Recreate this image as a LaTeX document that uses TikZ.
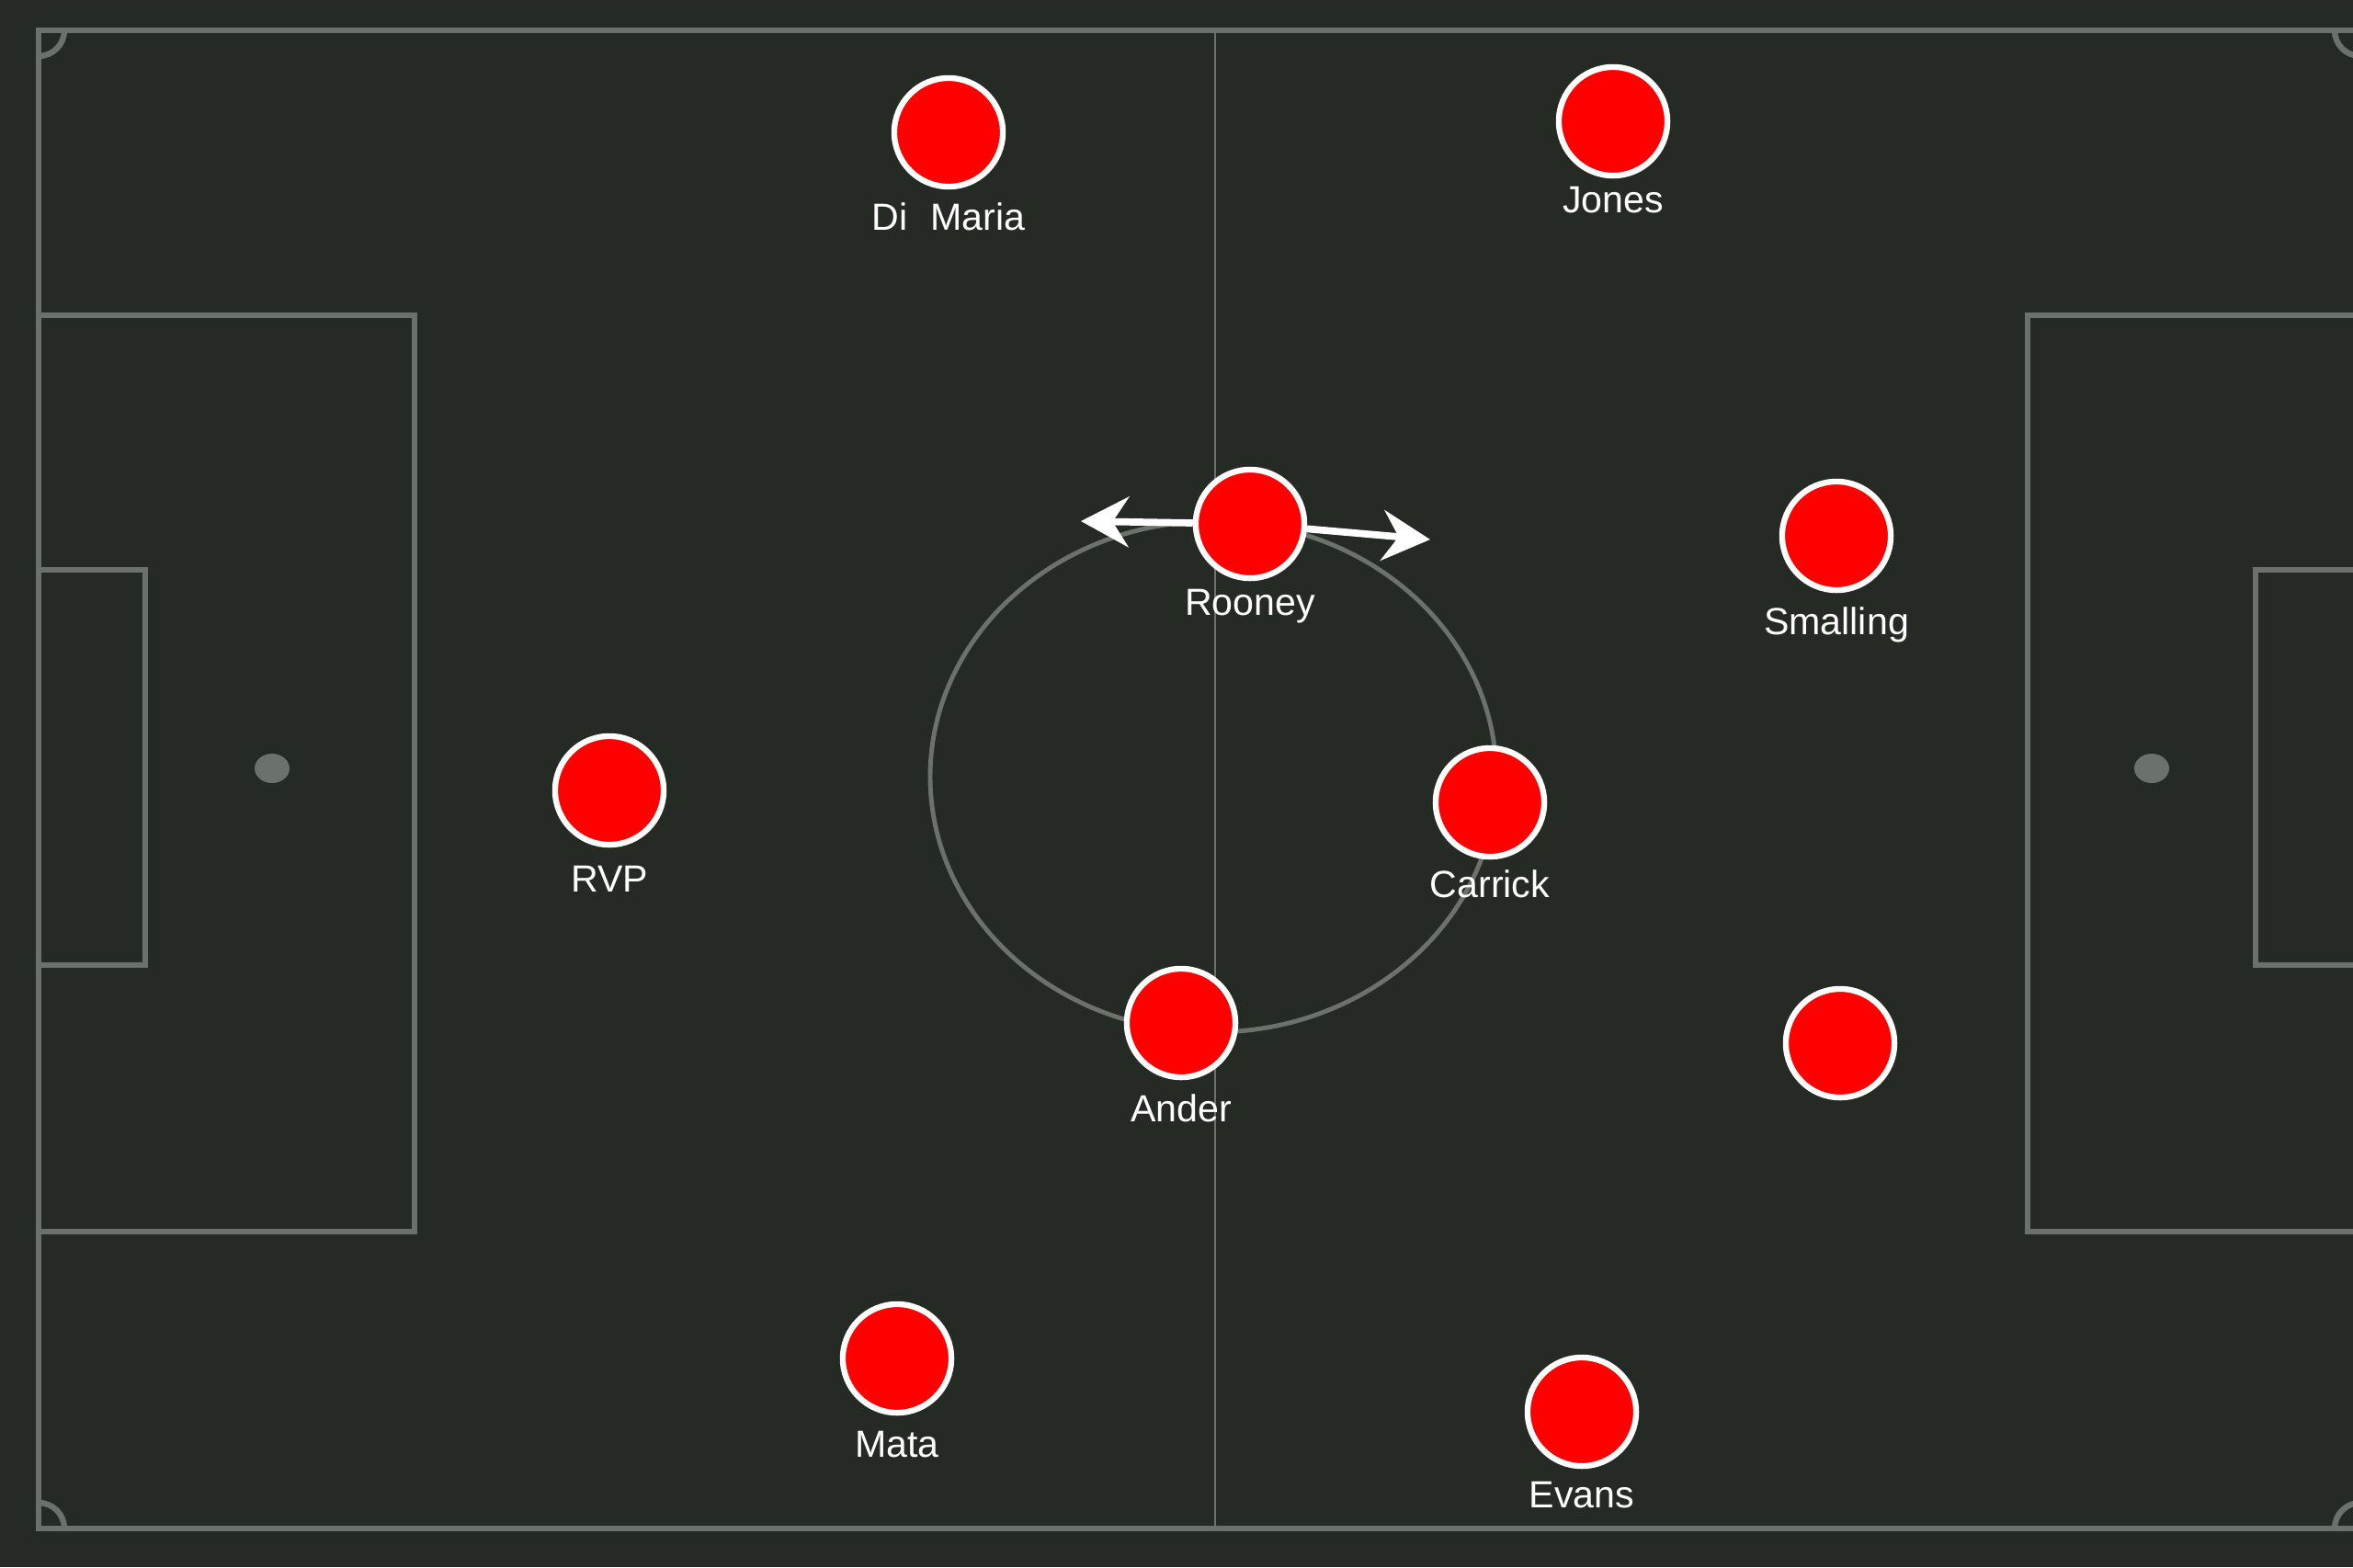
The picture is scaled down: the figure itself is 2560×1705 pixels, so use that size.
\documentclass[tikz,border=0pt]{standalone}
\usepackage{fontspec}
\setmainfont{Liberation Sans}
\usetikzlibrary{positioning,arrows.meta}
\definecolor{turf}{HTML}{252A24}
\definecolor{chalk}{HTML}{6B716B}
\definecolor{kit}{HTML}{FF0000}
\tikzset{
		pitch/.style={draw=chalk, line width=1.8pt},
		halfway/.style={draw=chalk, line width=0.8pt},
		spot/.style={fill=chalk},
		player/.style={circle, fill=kit, draw=white, line width=1.8pt, minimum size=33.6pt, inner sep=0pt},
		tag/.style={text=white, inner sep=0pt, text height=8.4pt, text depth=2.4pt, font=\fontsize{11.7}{14}\selectfont},
		run/.style={draw=white, line width=2.2pt, -{Stealth[length=14.8pt, width=15.6pt, inset=5pt]}}
	}
\begin{document}
\begin{tikzpicture}[x=0.01cm, y=-0.01cm]
				\fill[turf] (0,0) rectangle (2560,1705);
				\useasboundingbox (0,0) rectangle (2560,1705);
				\clip (0,0) rectangle (2560,1705);
				\draw[pitch] (42,33) rectangle (2568,1663);
				\draw[halfway] (1322,33) -- (1322,1663);
				\draw[pitch, line width=1.4pt] (1320,845) ellipse [x radius=308, y radius=278];
				\draw[pitch] (42,343) rectangle (451,1340);
				\draw[pitch] (42,620) rectangle (158,1050);
				\draw[pitch] (2206,343) rectangle (2568,1340);
				\draw[pitch] (2454,620) rectangle (2568,1050);
				\fill[spot] (296,836) ellipse [x radius=19, y radius=16];
				\fill[spot] (2341,836) ellipse [x radius=19, y radius=16];
				\draw[pitch] (70,33) arc[start angle=0, end angle=90, radius=28];
				\draw[pitch] (70,1663) arc[start angle=0, end angle=-90, radius=28];
				\draw[pitch] (2540,33) arc[start angle=180, end angle=90, radius=28];
				\draw[pitch] (2540,1663) arc[start angle=180, end angle=270, radius=28];
				\node[player] (dimaria) at (1032,144) {};
				\node[player] (jones) at (1755,132) {};
				\node[player] (rooney) at (1360,570) {};
				\node[player] (smalling) at (1998,583) {};
				\node[player] (rvp) at (663,860) {};
				\node[player] (carrick) at (1621,873) {};
				\node[player] (ander) at (1285,1113) {};
				\node[player] (wingback) at (2002,1135) {};
				\node[player] (mata) at (976,1478) {};
				\node[player] (evans) at (1721,1536) {};
				\node[tag, below=4pt of dimaria] (dimarianame) {Di\hspace{0.62em}Maria};
				\node[tag, below=2pt of jones] (jonesname) {Jones};
				\node[tag, below=2pt of rooney] (rooneyname) {Rooney};
				\node[tag, below=4.2pt of smalling] (smallingname) {Smalling};
				\node[tag, below=5pt of rvp] (rvpname) {RVP};
				\node[tag, below=3pt of carrick] (carrickname) {Carrick};
				\node[tag, below=4.2pt of ander] (andername) {Ander};
				\node[tag, below=4.2pt of mata] (mataname) {Mata};
				\node[tag, below=3.5pt of evans] (evansname) {Evans};
				\coordinate (leftrun) at (1176,567);
				\coordinate (rightrun) at (1556,587);
				\draw[run] (rooney) -- (leftrun);
				\draw[run] (rooney) -- (rightrun);
			\end{tikzpicture}
\end{document}
